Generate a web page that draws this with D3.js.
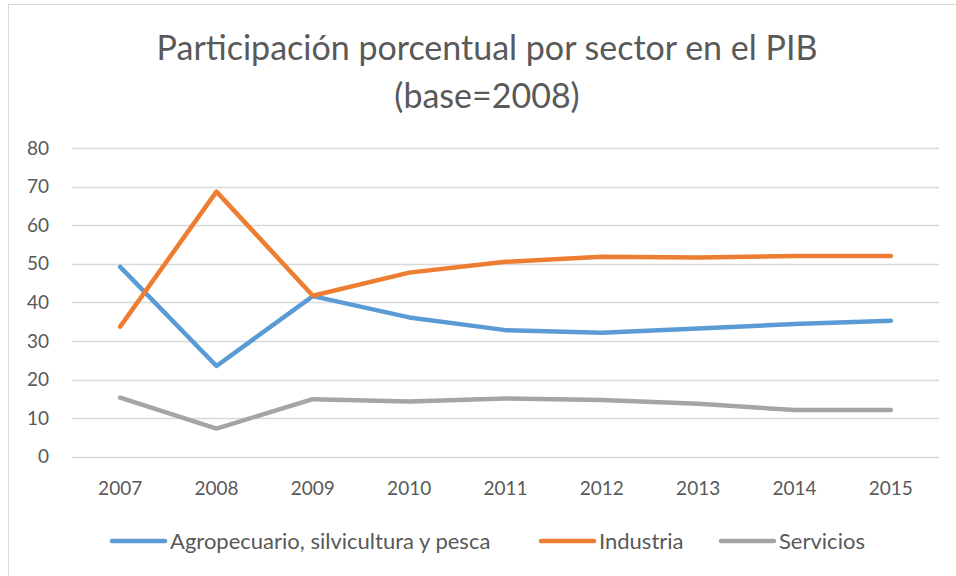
<!DOCTYPE html>
<html>
<head>
<meta charset="utf-8">
<script src="https://cdn.jsdelivr.net/npm/d3@7"></script>
<style>
	body { margin: 0; background: #fff; }
	text { font-family: Lato, "Open Sans", sans-serif; fill: #595959; }
</style>
</head>
<body>
<div class="chart"></div>
<script>
const years = ['2007', '2008', '2009', '2010', '2011', '2012', '2013', '2014', '2015'];
const agro = [49.2, 23.5, 41.6, 36.1, 32.8, 32.1, 33.2, 34.4, 35.2];
const industria = [33.7, 68.7, 41.7, 47.7, 50.5, 51.8, 51.6, 52.0, 52.0];
const servicios = [15.3, 7.3, 14.9, 14.3, 15.1, 14.7, 13.7, 12.1, 12.1];
const yTicks = [0, 10, 20, 30, 40, 50, 60, 70, 80];

const seriesNames = ['Agropecuario, silvicultura y pesca', 'Industria', 'Servicios'];
const seriesValues = [agro, industria, servicios];
const colors = ['#5b9bd5', '#ed7d31', '#a5a5a5'];

const width = 956;
const height = 576;

const svg = d3.select('.chart')
	.append('svg')
	.attr('width', width)
	.attr('height', height);

// chart border
svg.append('rect')
	.attr('x', 8.5)
	.attr('y', 4.5)
	.attr('width', 1000)
	.attr('height', 1000)
	.attr('fill', 'none')
	.attr('stroke', '#d9d9d9')
	.attr('stroke-width', 1);

// title
const title = svg.append('text')
	.attr('text-anchor', 'middle')
	.style('font-size', '34px');
title.append('tspan').attr('x', 487).attr('y', 60).text('Participación porcentual por sector en el PIB');
title.append('tspan').attr('x', 487).attr('y', 108).text('(base=2008)');

const x = d3.scaleBand()
	.domain(years)
	.range([72, 939]);

const y = d3.scaleLinear()
	.domain([0, 80])
	.range([456.7, 148]);

// gridlines
svg.selectAll('.grid')
	.data(yTicks)
	.enter()
	.append('line')
	.attr('x1', 72)
	.attr('x2', 939)
	.attr('y1', d => Math.round(y(d)) + 0.5)
	.attr('y2', d => Math.round(y(d)) + 0.5)
	.attr('stroke', '#d9d9d9')
	.attr('stroke-width', 1.3);

// y labels
svg.selectAll('.ylab')
	.data(yTicks)
	.enter()
	.append('text')
	.attr('x', 49)
	.attr('y', d => y(d))
	.attr('dy', '0.35em')
	.attr('text-anchor', 'end')
	.style('font-size', '19px')
	.text(d => d);

// x labels
svg.selectAll('.xlab')
	.data(years)
	.enter()
	.append('text')
	.attr('x', d => x(d) + x.bandwidth() / 2)
	.attr('y', 495)
	.attr('text-anchor', 'middle')
	.style('font-size', '19px')
	.text(d => d);

const line = d3.line()
	.x((d, i) => x(years[i]) + x.bandwidth() / 2)
	.y(d => y(d));

seriesValues.forEach((vals, i) => {
	svg.append('path')
		.datum(vals)
		.attr('d', line)
		.attr('fill', 'none')
		.attr('stroke', colors[i])
		.attr('stroke-width', 4.5)
		.attr('stroke-linecap', 'round')
		.attr('stroke-linejoin', 'round');
});

// legend
const legendX = [112, 541, 721];
seriesNames.forEach((name, i) => {
	svg.append('line')
		.attr('x1', legendX[i])
		.attr('x2', legendX[i] + 53)
		.attr('y1', 541)
		.attr('y2', 541)
		.attr('stroke', colors[i])
		.attr('stroke-width', 4.5)
		.attr('stroke-linecap', 'round');
	svg.append('text')
		.attr('x', legendX[i] + 58)
		.attr('y', 541)
		.attr('dy', '0.35em')
		.style('font-size', '22px')
		.text(name);
});
</script>
</body>
</html>
